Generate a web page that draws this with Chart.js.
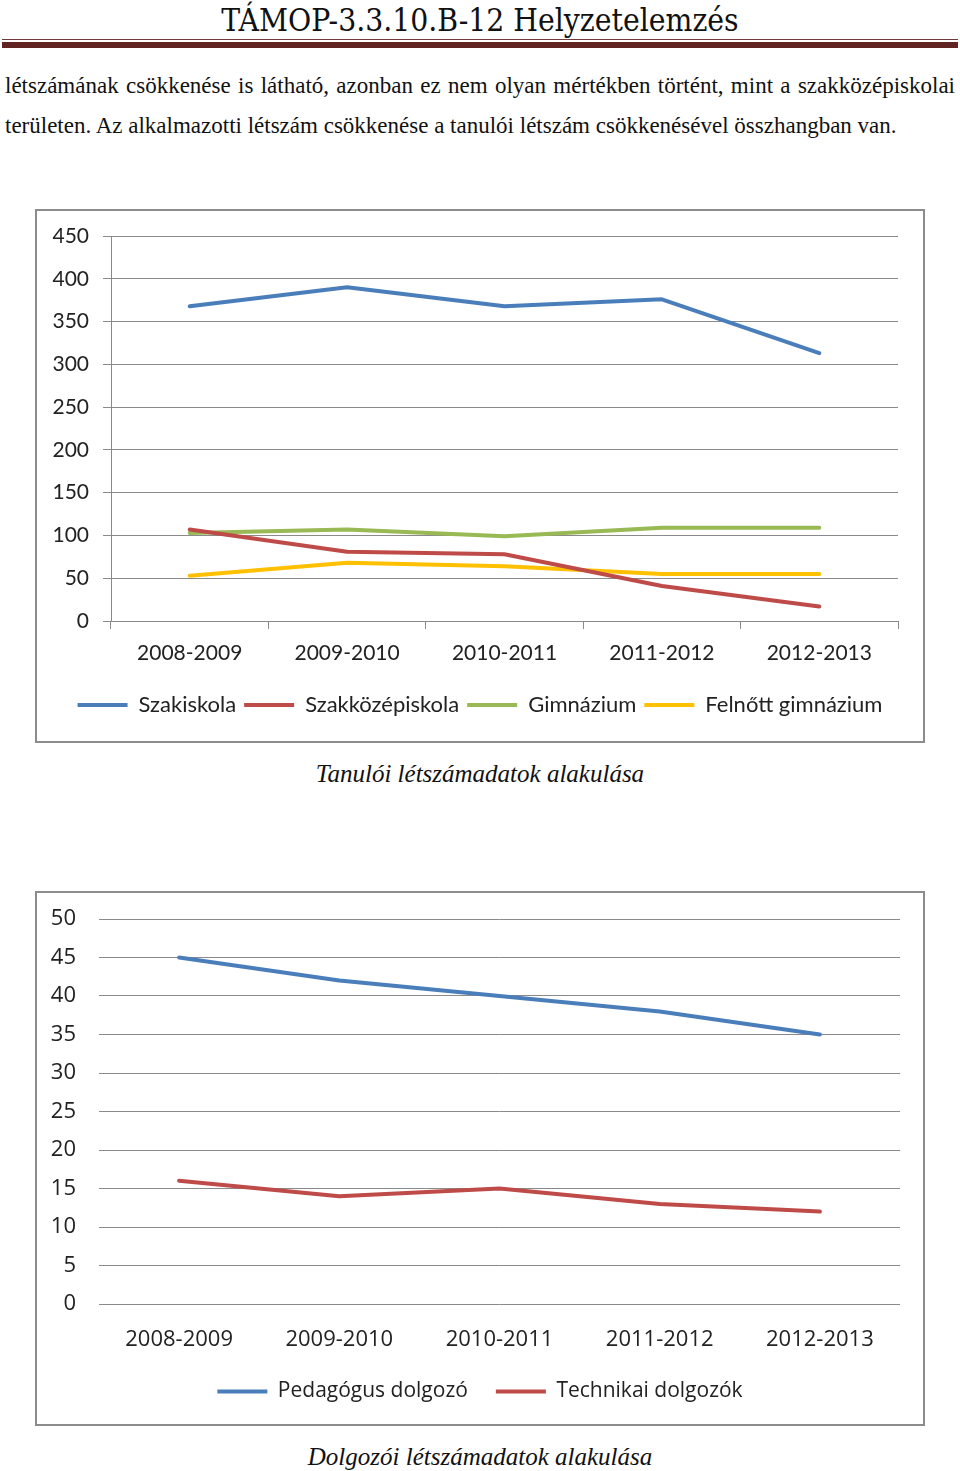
<!DOCTYPE html>
<html>
<head>
<meta charset="utf-8">
<script src="https://cdn.jsdelivr.net/npm/chart.js@4/dist/chart.umd.min.js"></script>
<style>
  html, body { margin: 0; padding: 0; background: #fff; }
  body { width: 960px; height: 1471px; position: relative; overflow: hidden; }
  .header { position: absolute; left: 0; top: 0; width: 960px; text-align: center;
    font-family: "DejaVu Serif Condensed", "Liberation Serif", serif; font-size: 31.5px; line-height: 40px; color: #111; }
  .rule1 { position: absolute; left: 2px; top: 39px; width: 956px; height: 1px; background: #6e3a3a; }
  .rule2 { position: absolute; left: 2px; top: 42px; width: 956px; height: 6px; background: #622423; }
  .para { position: absolute; left: 5px; width: 950px; font-family: "Liberation Serif", "Times New Roman", serif; font-size: 23px; line-height: 40px; color: #111; white-space: nowrap; }
  .l1 { top: 66px; text-align: justify; text-align-last: justify; }
  .l2 { top: 106px; }
  .frame { position: absolute; left: 35px; width: 886px; border: 2px solid #8c8c8c; background: #fff; }
  .f1 { top: 209px; height: 530px; }
  .f2 { top: 891px; height: 531px; }
  .frame canvas { display: block; }
  .caption { position: absolute; left: 0; width: 960px; text-align: center; font-family: "Liberation Serif", "Times New Roman", serif;
    font-style: italic; font-size: 25px; color: #111; line-height: 30px; }
  .c1 { top: 759px; }
  .c2 { top: 1442px; }
</style>
</head>
<body>
<div class="header">TÁMOP-3.3.10.B-12 Helyzetelemzés</div>
<div class="rule1"></div>
<div class="rule2"></div>
<div class="para l1">létszámának csökkenése is látható, azonban ez nem olyan mértékben történt, mint a szakközépiskolai</div>
<div class="para l2">területen. Az alkalmazotti létszám csökkenése a tanulói létszám csökkenésével összhangban van.</div>

<div class="frame f1"><canvas id="chart1" width="886" height="530"></canvas></div>
<div class="caption c1">Tanulói létszámadatok alakulása</div>

<div class="frame f2"><canvas id="chart2" width="886" height="531"></canvas></div>
<div class="caption c2">Dolgozói létszámadatok alakulása</div>

<script>
// ---- Data ----
const years = ["2008-2009", "2009-2010", "2010-2011", "2011-2012", "2012-2013"];

const szakiskola       = [368, 390, 368, 376, 313];
const szakkozepiskola  = [107, 81, 78, 41, 17];
const gimnazium        = [103, 107, 99, 109, 109];
const felnottGimnazium = [53, 68, 64, 55, 55];

const pedagogus = [45, 42, 40, 38, 35];
const technikai = [16, 14, 15, 13, 12];

const ticks1 = [0, 50, 100, 150, 200, 250, 300, 350, 400, 450];
const ticks2 = [0, 5, 10, 15, 20, 25, 30, 35, 40, 45, 50];

const BLUE = "#4a7ebb", RED = "#be4b48", GREEN = "#98b954", YELLOW = "#ffc000";
const GRID = "#8a8a8a";

function ds(label, data, color) {
  return { label, data, borderColor: color, backgroundColor: color, borderWidth: 4,
    pointRadius: 0, pointHoverRadius: 0, tension: 0, borderCapStyle: "round", borderJoinStyle: "round" };
}

// center the legend over the full canvas width (not only the padded area)
const legendFullWidth = {
  id: "legendFullWidth",
  beforeDraw(chart) {
    if (chart.legend) { chart.legend.left = 0; chart.legend.right = chart.width; }
  }
};

Chart.defaults.animation = false;
Chart.defaults.color = "#222";

// ---- Chart 1 ----
new Chart(document.getElementById("chart1"), {
  type: "line",
  data: {
    labels: years,
    datasets: [
      ds("Szakiskola", szakiskola, BLUE),
      ds("Szakközépiskola", szakkozepiskola, RED),
      ds("Gimnázium", gimnazium, GREEN),
      ds("Felnőtt gimnázium", felnottGimnazium, YELLOW)
    ]
  },
  plugins: [legendFullWidth],
  options: {
    responsive: false,
    layout: { padding: { top: 25, right: 25, left: 0, bottom: 15 } },
    plugins: {
      tooltip: { enabled: false },
      legend: {
        position: "bottom",
        labels: {
          usePointStyle: true, pointStyle: "line", pointStyleWidth: 50,
          font: { family: "Lato", size: 22 }, color: "#222", padding: 8
        }
      }
    },
    scales: {
      x: {
        offset: true,
        grid: { offset: true, drawOnChartArea: false, drawTicks: true, tickLength: 8, color: GRID },
        border: { display: true, color: GRID },
        ticks: { font: { family: "Lato", size: 21 }, color: "#222", padding: 12, maxRotation: 0 },
        afterFit: s => { s.height = 65; }
      },
      y: {
        min: 0, max: 450,
        afterBuildTicks: s => { s.ticks = ticks1.map(v => ({ value: v })); },
        grid: { color: GRID, tickLength: 8 },
        border: { display: true, color: GRID },
        ticks: { font: { family: "Lato", size: 21, lineHeight: 1 }, color: "#222", padding: 14 },
        afterFit: s => { s.width = 74; }
      }
    }
  }
});

// ---- Chart 2 ----
new Chart(document.getElementById("chart2"), {
  type: "line",
  data: {
    labels: years,
    datasets: [
      ds("Pedagógus dolgozó", pedagogus, BLUE),
      ds("Technikai dolgozók", technikai, RED)
    ]
  },
  plugins: [legendFullWidth],
  options: {
    responsive: false,
    layout: { padding: { top: 26, right: 23, left: 0, bottom: 12 } },
    plugins: {
      tooltip: { enabled: false },
      legend: {
        position: "bottom",
        labels: {
          usePointStyle: true, pointStyle: "line", pointStyleWidth: 50,
          font: { family: "Open Sans", size: 21 }, color: "#222", padding: 28
        }
      }
    },
    scales: {
      x: {
        offset: true,
        grid: { display: false },
        border: { display: false },
        ticks: { font: { family: "Open Sans", size: 22 }, color: "#222", padding: 15, maxRotation: 0 },
        afterFit: s => { s.height = 49; }
      },
      y: {
        min: 0, max: 50,
        afterBuildTicks: s => { s.ticks = ticks2.map(v => ({ value: v })); },
        grid: { color: GRID, drawTicks: true, tickLength: 23, tickColor: "rgba(0,0,0,0)" },
        border: { display: false },
        ticks: { font: { family: "Open Sans", size: 22, lineHeight: 1 }, color: "#222", padding: 0 },
        afterFit: s => { s.width = 62; }
      }
    }
  }
});
</script>
</body>
</html>
